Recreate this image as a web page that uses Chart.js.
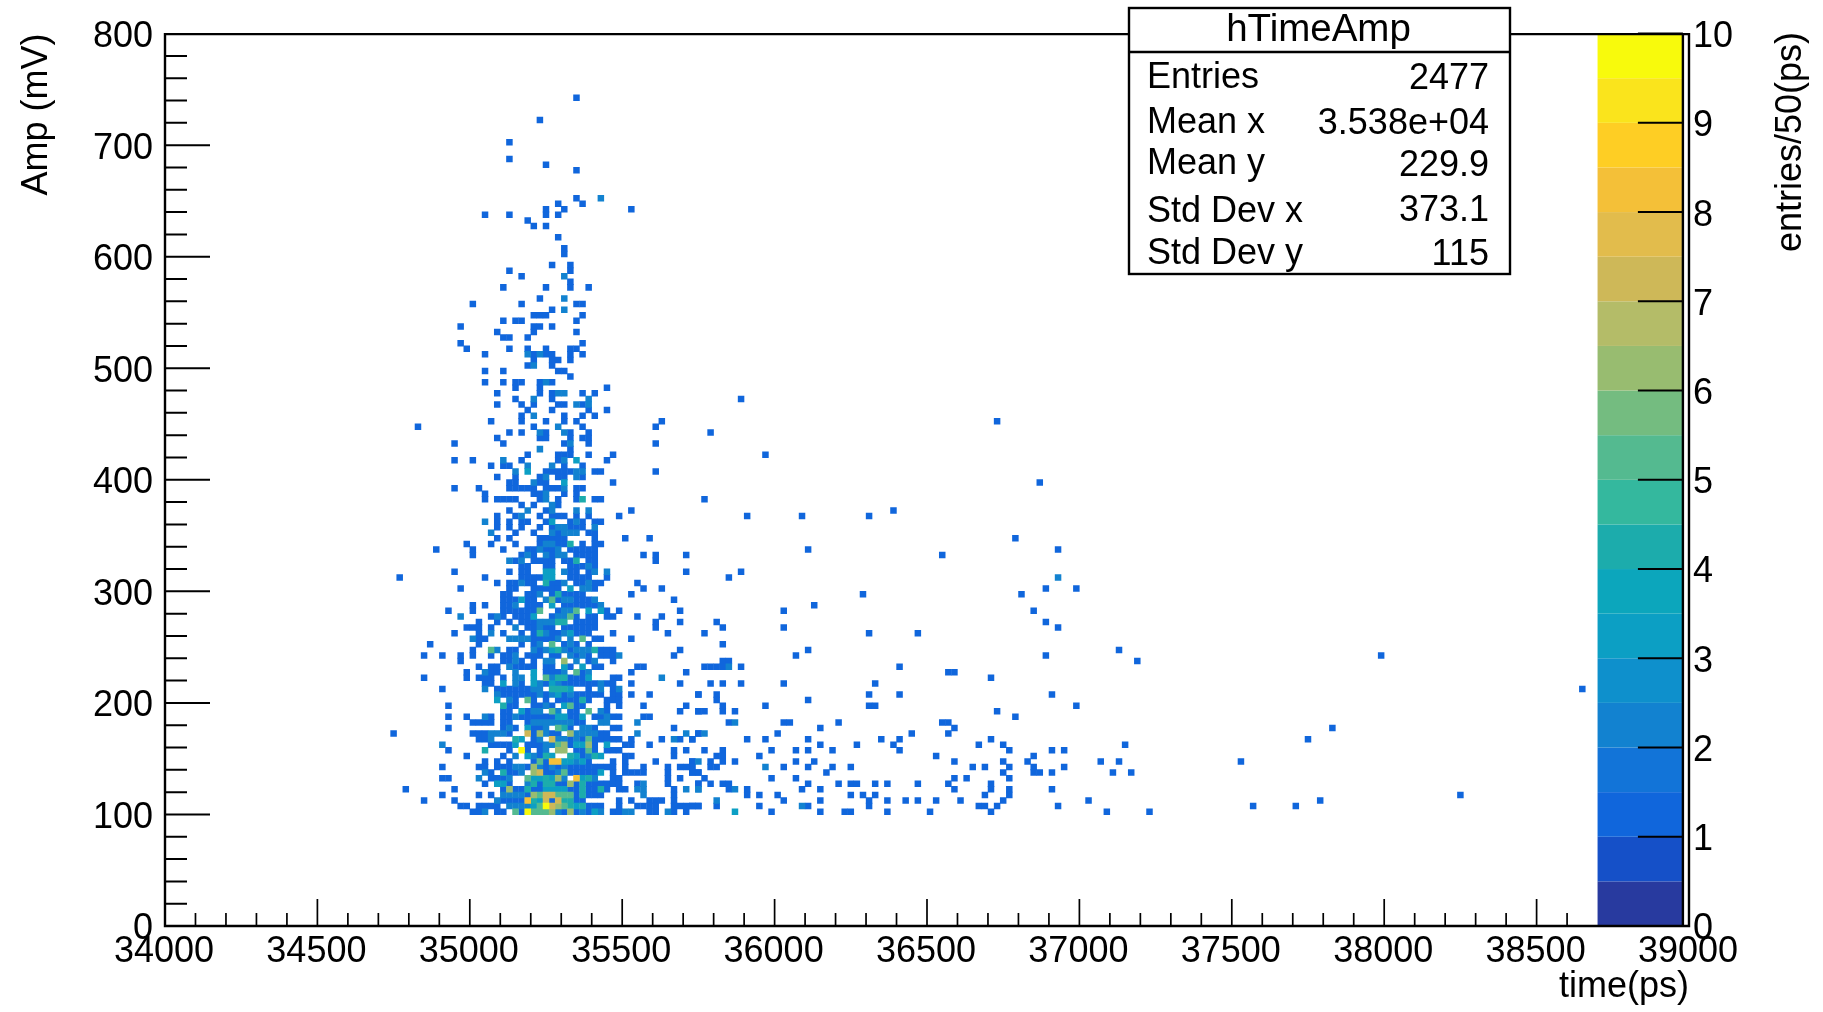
<!DOCTYPE html>
<html><head><meta charset="utf-8">
<style>html,body{margin:0;padding:0;background:#fff}canvas{display:block}</style>
<script src="https://cdn.jsdelivr.net/npm/chart.js@4"></script>
</head><body><canvas id="c" width="1823" height="1012"></canvas>
<script>
const timeBinStart = 34000, timeBinWidth = 20, ampBinWidth = 5;
const xTickStep = 500, xMinorStep = 100, yTickStep = 100, yMinorStep = 20;
const zLevels = ["#283A9F","#1550C8","#1066DC","#1274D8","#1282D0","#0E90CC","#0C9FC4","#0CA6BC","#1CACAC","#34B89E","#54BA90","#74BC80","#98BC70","#B4BC68","#CEB858","#E2BC4C","#F4C038","#FECE24","#FAE41C","#F8FA0C"];
const statsTitle = "hTimeAmp";
const statsLabels = ["Entries","Mean x","Mean y","Std Dev x","Std Dev y"];
const statsValues = ["2477","3.538e+04","229.9","373.1","115"];
// [amp bin number, "time bin numbers, bin:count when count > 1"]
const coreRows = [
[148,"67"],[144,"61"],[140,"56"],[137,"56"],[136,"62"],[135,"67"],[130,"67 71:2"],[129,"64 68"],[128,"62 65 76"],[127,"52 56 62 64"],[126,"59"],[125,"60 62"],[123,"64"],[121,"65"],[120,"65"],[118,"63 66"],[117,"56 66"],[116,"58 65:2"],[115,"66"],[114,"55 62 66 69"],[112,"61 65:2"],[111,"50 58 67 68"],[110,"63 65:2"],[109,"60 61 62 68"],[108,"55 57 58 67"],[107,"48 60 61 63"],[106,"54 60 67"],[105,"55 56 59"],[104,"48 68"],[103,"49 56 59 62 66 67"],[102,"52 59:2 60 61:2 62 63 66 68"],[101,"60 63 64 66"],[100,"59 60:2 63"],[99,"52 55 64 65"],[98,"66"],
[97,"52 55 57 58 61 62:2 63"],[96,"57 61 72"],[95,"54 61 63 64:2 65:2 68 70"],[94,"57 60:2 63 69:2"],[93,"54 58 60 64 65 67:2 68 69:2"],[92,"59 63 69 72"],[91,"58 60:2 65 68 70"],[90,"53 58 62 65 67 81"],[89,"41 60 64:2 68 80"],[88,"56 58 61:2 62 65:2 66 69"],[87,"54 61 62 66 68 69"],[86,"47 55 65 66:2 69 80"],[85,"61:2 66"],[84,"59 64 65 66 69 73"],[83,"47 50 55:2 58 64 65:2 67:3 72"],[82,"53 55 56 59:2 63:2 65 68"],[81,"57:2 59:3 62 63 64 65 66 67:2 68:2 70 71 80"],[80,"54 57 61 62:2 64 65 67:2 68"],[79,"56 57 60:2 61 62 65:3 73"],[78,"47 51 56 57 58 59 60 62 63 64 65:2 67 68"],[77,"52 60 61 62:2 65 67"],[76,"52 54 55 56 57 61 62:2 64 67 68:4 70 71"],[75,"58 60 63:2 64"],[74,"56 59:2 62 63:2 67:2 69:2 76"],[73,"54 57 58:2 61 63 64 65 67 69 74"],[72,"52:2 54 56 58 59 62 63:3 66 67:2 68 70 71"],[71,"54 56 58 61 63 64:2 65:2 66 67 68 70:2"],[70,"53:2 57 60 63:2 64 65:2 66:2 67:2 69 70"],[69,"54 56 61 62 63 64 65 70 75 79"],[68,"49 53 57 61 62:2 63:2 64 65 66:4 68 70 71"],[67,"44 50 55 59 60 61:2 62 63 64:2 66 67 68 69 70"],[66,"50 58 59:2 60 62:2 63 64:2 65:2 67 68 69 70 78 80 85"],[65,"56:2 57 58:2 60 61 62 63 65 66 67:4 69 70 80"],[64,"58 59 62 63 66 67 68 69:2 70"],[63,"47 56 58 59 62:3 63:3 65:2 66 67 69 70:2 72:2 85"],[62,"38 52 58 59 60 61 62:3 63:3 66 67 68 69 72"],[61,"54 56 57 58:2 59 60 62:4 63 64 65:2 67 68 69:2 70 71 77"],[60,"48 56 57 60 61 62 63 64 66:3 68:2 69:2 70 78 81"],[59,"55 56 59 60 61:2 63 64:4 65 66 67 68 76"],[58,"55 56 57 58:3 59 60 62:2 63:5 64 65:2 66:2 67 68 69 70:2 83"],
[57,"50 52 55 56 57:2 59 60 61 63:3 65 66 67 68 69 70 71:2"],[56,"46 50 55 56 57 58 59 60 61:5 64 65:2 66:2 67:5 69:3 71:3 72 74 84"],[55,"48:2 53 54:2 55 57 58 59 60:3 63 64:2 65:2 66:5 67 69 70 72 73 77 81"],[54,"51 54 56 58 59 60 61:2 62:2 63:2 64:4 65:4 67 68 69 70 80 84"],[53,"49 50 51 53 57:2 59 60 61:2 62 63 65 66 67 68 69 70 80"],[52,"47 51 53:2 55 58 60 61:4 62:2 63 64 65:2 66:3 67 68 69 73 82"],[51,"50:2 51 52 56:2 57:2 58:2 59:2 60 61 62 63 64:2 66:2 68:5 70 71 76"],[50,"43 51 58 60 61:2 63:5 65 66:2 67 69"],[49,"50 53:5 54:2 56 57 60:2 61 62:2 63:3 64:4 65:2 66 67:2 68:2 69:2 70:4 71 72 73 84"],[48,"42 45 48 50 53 55 56 57:2 59 60 61 63 64 66:2 67 68:2 69 71 72 73 74:2 83"],[47,"48 55 56 57:2 58 60 62:2 63:2 65:6 67:2 69 70:2 73"],[46,"51 53 54 56:2 57 58 59 60 62 63 65:3 66 68:3 70 71 77 78"],[45,"49 52:2 53 54 57:2 60:3 62 63 64 65:2 67:5 68 69:2 76 85"],[44,"42 49 51 52 53 55 57:2 58:2 60:3 62:5 63:2 64:4 65:4 66 67 68 69:3 73 74 81:2"],[43,"52 53 55:3 57:2 58 60:3 61:2 62 63:3 64:2 65 66 67 68 69 70 71:2 72 73 76 84"],[42,"45 52:2 54 55 56 57 58 59 60:2 61:2 63:4 64:4 65:4 66:3 69 71:2 73 74:2"],[41,"54:2 55 56 57 58 59 60 61:2 62 63:2 64:3 65 66:2 67 68 69 70 71 73 74 76 79 87"],[40,"54:3 56:2 57 59:5 60 62 64 65 66 67 68:4 69 72 73 74"],[39,"46 55:4 56 57 60 61 62:2 63 65:3 66:5 67 68 72 74 78 85"],[38,"55 56 58:3 59 60:2 61:2 63:5 64:2 66 67 69:5 71:2 72 84 87"],[37,"46 49 52:2 53 55 56 57:2 58 59 60 61 62 63 64:3 65:3 66 67 68:3 70 71 72:2 73 74 78 79"],[36,"50 51 52 53 55 56 59 60:2 61:2 62:2 63:2 64:2 65:2 66:2 67 68 71:2 72:2 77:2"],[35,"46 55 56:2 57 59:3 60 61 62:2 64:5 65:4 66 68:2 69:2 70 73 74 83"],[34,"37 50 51 52 53:2 54:2 55:2 56 59:7 60 61:6 62:2 63 64 66:6 67:2 68:2 69:2 70:2 71 72 77:2 85:2 87"],[33,"51 52 53:2 57:4 58:3 60 61:2 63:7 64:2 65:2 66 67:2 68 69:5 70 71 72 73 74 76 81 83:2 84 86"],[32,"45:2 53 54 55 56 57:3 59 60 61 62:2 63:2 64:5 65:6 66 67:3 68:3 69:6 70 72:3 75 76 79"],[31,"46 52:4 56 58:10 59 61 62:2 64:6 65:6 67 68 69:5 70 72 73 74 83 85"],[30,"49 55 57:2 59:3 60:2 61 62:4 63:3 66:4 67:3 68 69:2 70:4 71:3 75 76 83"],[29,"52 54 56 60 61:5 62 63:8 64:8 65:3 66:3 67:2 68:3 69 73 75 80 86"],[28,"45 51 52 54 55 56 57:2 58:2 59 60:6 61:2 62 63:2 64 65:2 66 67 68 69 70 71 72 73 75 78 82 84 85 86"],[27,"52:2 53 55:4 56 57 58:2 60:6 61:7 62 63 64:2 65:5 66 67 68 69 70 71:3 73 75 76 77 78 82 86 87"],[26,"45 46 51:2 53 54 55 56:2 59:5 60:3 61:3 62:4 63:3 64:6 65:2 67:8 68:3 69:4 70:2 73 74 82 84"],[25,"52 54:3 55:3 56 59:2 60:4 61 62:4 63:4 64 65 66:6 67 68:4 69 70 71 72 73 74 77 78:2 82 87"],[24,"39 47 55 56:6 57 58 59:4 60 61 62:3 63:3 64:3 65:3 66 67 68:4 69 70 71:4 72 74 75 77:2 78:2 83 85:2 87:2"],[23,"45 51 53 55:2 56:2 57:2 58:2 59 60:6 61:5 62:7 63:7 64:5 65:5 66:5 67 68:4 69 70 71 78:2 83"],[22,"42 47 54:2 55 56 57 58 59:8 60:4 61:3 62:7 63 64:7 65:4 66:4 67 68 74 76 79 80 81 83"],[21,"48 49 51 52 53 54 56:2 57:2 58:2 59:2 60:3 61:5 62:10 63:7 64:6 65:5 66:4 67:3 68:4 69 70 71 74 77 78 79 80 83 84 85 86 87"],[20,"50 51 52:2 54 55 57:5 58 59:10 60:5 61:5 62:5 63:6 64:2 65 66:6 67 68:2 69 70:3 71:2 73 74 75:2 76:2 79 80 82:2 83 85"]
];
const tailRows = [
[94,"94"],[90,"136"],[88,"89"],[84,"98"],[79,"143"],[76,"88"],[74,"119"],[73,"95 104 115"],[69,"139"],[67,"105 146"],[66,"127"],[63,"94"],[62,"92 146:2"],[60,"144 149"],[59,"114 140"],[57,"106"],[56,"101 142"],[54,"90 144"],[53,"91 101 146"],[52,"88 115 123"],[50,"91"],[49,"105 156"],[48,"103 144 199"],[47,"91 92 159"],[46,"88 89 90 91 92:2 94 120"],[45,"128 129"],[44,"135"],[43,"89 91 94 101 116"],[42,"232"],[41,"87 90 115 120 145"],[40,"90 105"],[39,"91 98 115 116 149"],[38,"87 88 91 93 136"],[37,"139"],[36,"92 93:2 101 102 110 127 128"],[35,"107 129 191"],[34,"87 88:2 100 122 128"],[33,"86 95 98 105 117 120 135 187"],[32,"107 113 119 133 137 157"],[31,"88 91 99 103 105 109 120 138 145 147"],[30,"90 91 97 126 142"],[29,"86 87:2 89 91 93 103 106 129 137 141 153 156 176"],[28,"86 89 90 98:2 101 105 109 112 132 134 138 142 147"],[27,"86 87 108 137 142 143 145 155 158"],[26,"88 99 103 129 131 138"],[25,"87 89 91 92 105 110 112 113 116 118 123 128 135"],[24,"87:2 92 93:2 95 104 107 129 135 138 145"],[23,"95 97 100 112 114 116 134 138 212"],[22,"90:2 101 107 115 118 121 123 126 130 137 151 189"],[21,"86 87 90 97 104:2 105 115 133 134 136 146 178 185"],[20,"93:3 99 107 111 112 118 125 135 154 161"]
];
const countLevels = [10,8,7,6,5,4,3,2,1];

const byCount = {};
countLevels.forEach(c => byCount[c] = []);
coreRows.concat(tailRows).forEach(([ampBin, cells]) => {
  cells.split(" ").forEach(cell => {
    const [bin, n] = cell.split(":").map(Number);
    byCount[n || 1].push({
      x: timeBinStart + (bin + 0.5) * timeBinWidth,
      y: (ampBin + 0.5) * ampBinWidth
    });
  });
});

const FONT = '"Liberation Sans", Arimo, Helvetica, Arial, sans-serif';
const hist = {
  id: 'rootDecor',
  afterDatasetsDraw(chart) {
    const { ctx, chartArea: a, scales: { x, y, z } } = chart;
    ctx.save();
    // palette
    const pl = x.getPixelForValue(38700), pr = x.getPixelForValue(38980);
    zLevels.forEach((col, k) => {
      const t = z.getPixelForValue((k + 1) * 0.5), b = z.getPixelForValue(k * 0.5);
      ctx.fillStyle = col;
      ctx.fillRect(pl, t, pr - pl, b - t);
    });
    ctx.strokeStyle = '#000';
    ctx.lineWidth = 1.7;
    ctx.beginPath();
    for (let v = 34000; v < 38700; v += xMinorStep) {
      const p = x.getPixelForValue(v), len = v % xTickStep === 0 ? 27 : 13;
      ctx.moveTo(p, a.bottom); ctx.lineTo(p, a.bottom - len);
    }
    ctx.stroke();
    ctx.lineWidth = 2;
    ctx.beginPath();
    for (let v = 0; v < 800; v += yMinorStep) {
      const p = y.getPixelForValue(v), len = v % yTickStep === 0 ? 45 : 22;
      ctx.moveTo(a.left, p); ctx.lineTo(a.left + len, p);
    }
    for (let v = 0; v <= 10; v++) {
      const p = z.getPixelForValue(v);
      ctx.moveTo(pr, p); ctx.lineTo(pr - 45, p);
    }
    ctx.stroke();
    ctx.lineWidth = 2.4;
    ctx.beginPath();
    ctx.moveTo(pr, a.top); ctx.lineTo(pr, a.bottom);
    ctx.rect(a.left, a.top + 0.5, a.right - a.left, a.bottom - a.top - 0.5);
    ctx.stroke();
    // z title
    ctx.fillStyle = '#000';
    ctx.font = '36px ' + FONT;
    ctx.save();
    ctx.translate(1801, 32);
    ctx.rotate(-Math.PI / 2);
    ctx.textAlign = 'right';
    ctx.textBaseline = 'alphabetic';
    ctx.fillText('entries/50(ps)', 0, 0);
    ctx.restore();
    // stats box
    const bx = 1129, bw = 381, by = 8, bh = 266;
    ctx.fillStyle = '#fff';
    ctx.fillRect(bx, by, bw, bh);
    ctx.lineWidth = 2.4;
    ctx.strokeRect(bx, by, bw, bh);
    ctx.beginPath(); ctx.moveTo(bx, 52); ctx.lineTo(bx + bw, 52); ctx.stroke();
    ctx.fillStyle = '#000';
    ctx.font = '38.5px ' + FONT;
    ctx.textAlign = 'center';
    ctx.fillText(statsTitle, bx + bw / 2 - 1, 41);
    ctx.font = '36px ' + FONT;
    const labelBase = [88, 133, 174, 222, 264], valueBase = [89, 134, 176, 221, 265];
    statsLabels.forEach((s, i) => {
      ctx.textAlign = 'left';
      ctx.fillText(s, 1147, labelBase[i]);
      ctx.textAlign = 'right';
      ctx.fillText(statsValues[i], 1489, valueBase[i]);
    });
    ctx.restore();
  }
};

new Chart(document.getElementById('c').getContext('2d'), {
  type: 'scatter',
  data: {
    datasets: countLevels.map(c => ({
      label: 'count ' + c,
      data: byCount[c],
      pointStyle: 'rect',
      pointRadius: 4.6,
      pointBorderWidth: 0,
      pointBackgroundColor: zLevels[Math.min(19, c * 2)],
      showLine: false
    }))
  },
  options: {
    responsive: false,
    animation: false,
    layout: { padding: { top: 33, left: 0, right: 0, bottom: 0 } },
    plugins: { legend: { display: false }, tooltip: { enabled: false } },
    scales: {
      x: {
        type: 'linear', position: 'bottom', min: 34000, max: 39000,
        grid: { display: false, drawTicks: false }, border: { display: false },
        ticks: { stepSize: xTickStep, autoSkip: false, maxRotation: 0, padding: 4, labelOffset: -1, color: '#000', font: { family: FONT, size: 36 }, callback: v => String(v) },
        title: { display: true, text: 'time(ps)', align: 'end', color: '#000', font: { family: FONT, size: 36 }, padding: { top: 0, bottom: 3 } },
        afterFit: s => { s.height = 86; }
      },
      y: {
        type: 'linear', position: 'left', min: 0, max: 800,
        grid: { display: false, drawTicks: false }, border: { display: false },
        ticks: { stepSize: yTickStep, autoSkip: false, padding: 12, labelOffset: 3.5, color: '#000', font: { family: FONT, size: 36 }, callback: v => String(v) },
        title: { display: true, text: 'Amp (mV)', align: 'end', color: '#000', font: { family: FONT, size: 36 }, padding: { top: 15, bottom: 0 } },
        afterFit: s => { s.width = 165; }
      },
      z: {
        type: 'linear', position: 'right', min: 0, max: 10,
        grid: { display: false, drawTicks: false }, border: { display: false },
        ticks: { stepSize: 1, autoSkip: false, padding: 4, labelOffset: 3.5, color: '#000', font: { family: FONT, size: 36 }, callback: v => String(v) },
        afterFit: s => { s.width = 134; }
      }
    }
  },
  plugins: [hist]
});
</script></body></html>
